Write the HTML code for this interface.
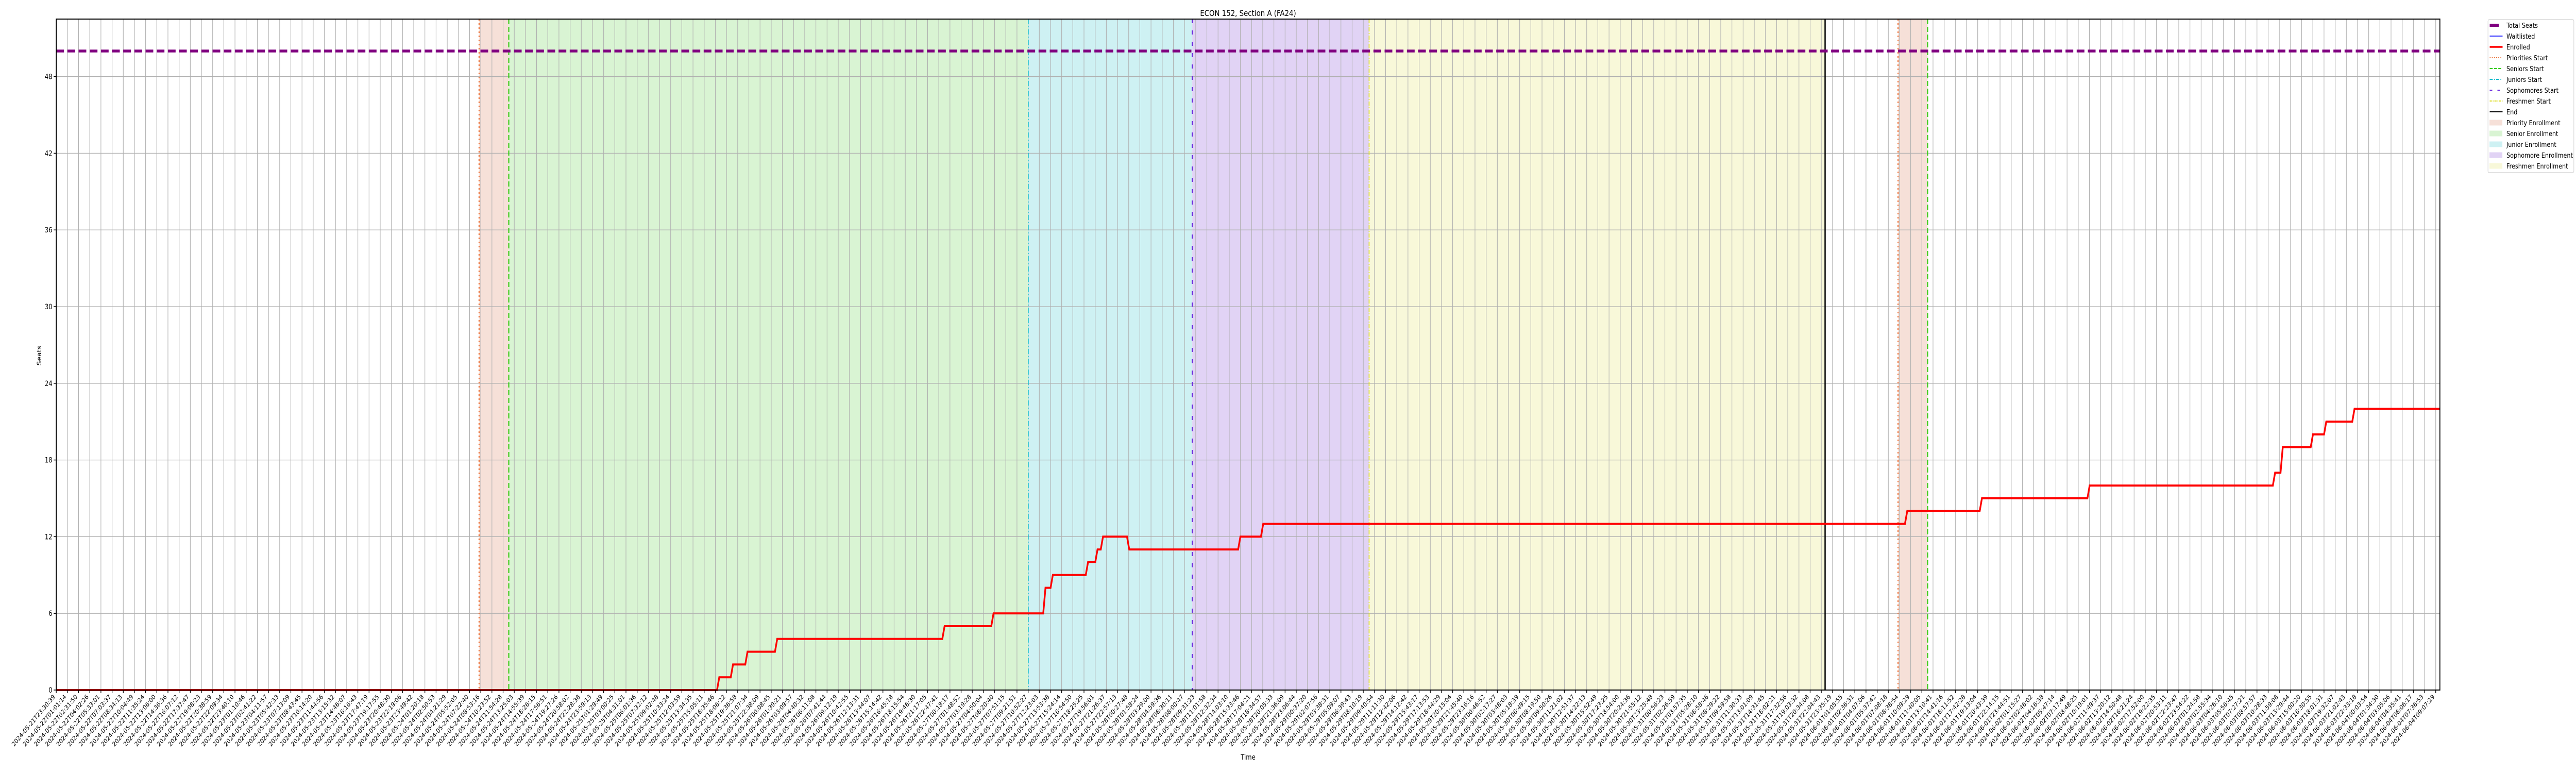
<!DOCTYPE html>
<html><head><meta charset="utf-8"><title>ECON 152 enrollment chart</title>
<style>
html,body{margin:0;padding:0;background:#fff;width:100vw;height:100vh;overflow:hidden;}
svg{display:block;position:absolute;left:0;top:0;width:100vw;height:100vh;font-family:"DejaVu Sans","Liberation Sans",sans-serif;overflow:hidden;}
</style></head>
<body>
<svg id="chart" viewBox="0 0 6000 1500" preserveAspectRatio="none" xmlns="http://www.w3.org/2000/svg">
  <defs><clipPath id="frameClip"><rect x="0" y="0" width="5999" height="1500"/></clipPath></defs>
  <text x="2907" y="31" font-size="16" text-anchor="middle" fill="#000">ECON 152, Section A (FA24)</text>
  <text x="96" y="690" font-size="14" text-anchor="middle" transform="rotate(-90 96 690)" fill="#000">Seats</text>
  <text x="2907" y="1474" font-size="14" text-anchor="middle" fill="#000">Time</text>
</svg>
<script>
// ---- data (x in tick-index units, y in seats) ----
const yTicks = [0, 6, 12, 18, 24, 30, 36, 42, 48];
const totalSeats = [50];
const waitlisted = [0];
const startLabel = "2024-05-21T23:30:39";
const endLabel = "2024-06-04T09:07:29";
const tickCount = [214];
const enrolledStepTimes = [59.15, 60.38, 61.68, 64.34, 79.32, 83.70, 88.35, 89.01, 92.16, 93.01, 93.50, 95.85, 105.80, 107.84, 165.49, 172.18, 181.82, 198.42, 199.11, 201.81, 203.00, 205.53];
const enrolledStepValues = [1, 2, 3, 4, 5, 6, 8, 9, 10, 11, 12, 11, 12, 13, 14, 15, 16, 17, 19, 20, 21, 22];
const enrolledStart = [0];
const spanNames = ["Priority Enrollment", "Senior Enrollment", "Junior Enrollment", "Sophomore Enrollment", "Freshmen Enrollment", "Priority Enrollment"];
const spanStarts = [37.85, 40.51, 87.01, 101.69, 117.52, 164.87];
const spanEnds = [40.51, 87.01, 101.69, 117.52, 158.34, 167.52];
const markerNames = ["Priorities Start", "Seniors Start", "Juniors Start", "Sophomores Start", "Freshmen Start", "End", "Priorities Start", "Seniors Start"];
const markerTimes = [37.85, 40.51, 87.01, 101.69, 117.52, 158.34, 164.87, 167.52];

// ---- layout ----
const L = 131, R = 5683, T = 37, B = 1339;
const tickStep = 26.02;
const X_MAX = (R - L) / tickStep;
const Y_MAX = 52.5;
function xs(t){ return L + t * tickStep; }
function ys(v){ return B - v / Y_MAX * (B - T); }

const NS = "http://www.w3.org/2000/svg";
const svg = document.getElementById("chart");
function mk(tag, attrs, parent){
  const e = document.createElementNS(NS, tag);
  for (const k in attrs) e.setAttribute(k, attrs[k]);
  (parent || svg).appendChild(e);
  return e;
}

const spanFill = {"Priority Enrollment":"#f6e0d8","Senior Enrollment":"#d9f4d3","Junior Enrollment":"#cef1f3","Sophomore Enrollment":"#e1d3f5","Freshmen Enrollment":"#f8f8d9"};
const markerStyle = {
  "Priorities Start":{c:"#ea6a2e",d:"3,5",w:2.5},
  "Seniors Start":{c:"#33cc11",d:"10,5",w:2.5},
  "Juniors Start":{c:"#11bbcc",d:"10,4,2,4",w:2},
  "Sophomores Start":{c:"#6622dd",d:"8,14",w:2.5},
  "Freshmen Start":{c:"#dddd22",d:"8,3,2,3",w:2},
  "End":{c:"#000000",d:"none",w:3}
};

// spans
const gSpans = mk("g", {});


spanStarts.forEach((s, i) => {
  const r = mk("rect", {x: xs(s), y: T, width: xs(spanEnds[i]) - xs(s), height: B - T, fill: spanFill[spanNames[i]]}, gSpans);
  
  
});

// grid
const gGrid = mk("g", {stroke: "#b0b0b0", "stroke-width": 1.3});


const nT = tickCount[0];
for (let i = 0; i < nT; i++) {
  const ln = mk("line", {x1: xs(i), x2: xs(i), y1: T, y2: B}, gGrid);
  
  
}
yTicks.forEach(v => {
  const ln = mk("line", {x1: L, x2: R, y1: ys(v), y2: ys(v)}, gGrid);
  
  
});

// marker lines
markerTimes.forEach((t, i) => {
  const st = markerStyle[markerNames[i]];
  const ln = mk("line", {x1: xs(t), x2: xs(t), y1: T, y2: B, stroke: st.c, "stroke-width": st.w, "stroke-dasharray": st.d});
  
  
});

// total seats
const ts = mk("line", {x1: L, x2: R, y1: ys(totalSeats[0]), y2: ys(totalSeats[0]), stroke: "#800080", "stroke-width": 5.5, "stroke-dasharray": "18,8"});



// waitlisted
const wl = mk("line", {x1: L, x2: R, y1: ys(waitlisted[0]), y2: ys(waitlisted[0]), stroke: "#3333ff", "stroke-width": 2});



// enrolled
const rise = 0.2;
let pts = [[xs(0), ys(enrolledStart[0])]];
let cur = enrolledStart[0];
enrolledStepTimes.forEach((t, i) => {
  pts.push([xs(t), ys(cur)]);
  cur = enrolledStepValues[i];
  pts.push([xs(t + rise), ys(cur)]);
});
pts.push([xs(X_MAX), ys(cur)]);
const en = mk("polyline", {points: pts.map(p => p[0].toFixed(1) + "," + p[1].toFixed(1)).join(" "), fill: "none", stroke: "#ff0000", "stroke-width": 4, "stroke-linejoin": "miter"});



// axes frame
const fr = mk("rect", {x: L, y: T, width: R - L, height: B - T, fill: "none", stroke: "#000", "stroke-width": 2});



// y ticks
yTicks.forEach(v => {
  const tk = mk("line", {x1: L - 6, x2: L, y1: ys(v), y2: ys(v), stroke: "#000", "stroke-width": 1.5});
  
  
  const tx = mk("text", {x: L - 9, y: ys(v) + 5, "font-size": 14, "text-anchor": "end", fill: "#000"});
  tx.textContent = String(v);
  
  
});

// x ticks + labels
function parseTs(s){ return Date.UTC(+s.slice(0,4), +s.slice(5,7)-1, +s.slice(8,10), +s.slice(11,13), +s.slice(14,16), +s.slice(17,19)); }
function fmt(ms){ const d = new Date(ms); const p = n => String(n).padStart(2, "0");
  return d.getUTCFullYear() + "-" + p(d.getUTCMonth()+1) + "-" + p(d.getUTCDate()) + "T" + p(d.getUTCHours()) + ":" + p(d.getUTCMinutes()) + ":" + p(d.getUTCSeconds()); }
const t0 = parseTs(startLabel), t1 = parseTs(endLabel);
for (let i = 0; i < nT; i++) {
  const x = xs(i);
  const tk = mk("line", {x1: x, x2: x, y1: B, y2: B + 6, stroke: "#000", "stroke-width": 1.5});
  
  
  const lx = x - 2, ly = B + 14;
  const tx = mk("text", {x: lx, y: ly, "font-size": 12.5, "text-anchor": "end", transform: "rotate(-45 " + lx + " " + ly + ")", fill: "#000"});
  tx.textContent = fmt(t0 + (t1 - t0) * i / (nT - 1));
  
  
}

// legend
const legendItems = [
  {n:"Total Seats", k:"line", c:"#800080", w:6, d:"none", short:true},
  {n:"Waitlisted", k:"line", c:"#3333ff", w:2, d:"none"},
  {n:"Enrolled", k:"line", c:"#ff0000", w:3.5, d:"none"},
  {n:"Priorities Start", k:"line", c:"#ea6a2e", w:2, d:"2,3"},
  {n:"Seniors Start", k:"line", c:"#33cc11", w:2, d:"7,3"},
  {n:"Juniors Start", k:"line", c:"#11bbcc", w:2, d:"7,3,2,3"},
  {n:"Sophomores Start", k:"line", c:"#6622dd", w:2, d:"6,12"},
  {n:"Freshmen Start", k:"line", c:"#dddd22", w:2, d:"5,2,2,2"},
  {n:"End", k:"line", c:"#000", w:2, d:"none"},
  {n:"Priority Enrollment", k:"patch", c:"#f6e0d8"},
  {n:"Senior Enrollment", k:"patch", c:"#d9f4d3"},
  {n:"Junior Enrollment", k:"patch", c:"#cef1f3"},
  {n:"Sophomore Enrollment", k:"patch", c:"#e1d3f5"},
  {n:"Freshmen Enrollment", k:"patch", c:"#f8f8d9"}
];
const gLeg = mk("g", {"clip-path": "url(#frameClip)"});


const lb = mk("rect", {x: 5795, y: 38, width: 200, height: 297, rx: 3, fill: "#fff", stroke: "#d0d0d0", "stroke-width": 1.2}, gLeg);


legendItems.forEach((it, i) => {
  const cy = 49 + i * 21;
  if (it.k === "line") {
    const ln = mk("line", {x1: 5799, x2: it.short ? 5820 : 5829, y1: cy, y2: cy, stroke: it.c, "stroke-width": it.w, "stroke-dasharray": it.d}, gLeg);
    
    
  } else {
    const r = mk("rect", {x: 5799, y: cy - 5, width: 29, height: 10, fill: it.c, stroke: it.c}, gLeg);
    
    
  }
  const tx = mk("text", {x: 5838, y: cy + 5, "font-size": 13.5, fill: "#000"}, gLeg);
  tx.textContent = it.n;
  
  
});
</script>
</body></html>
